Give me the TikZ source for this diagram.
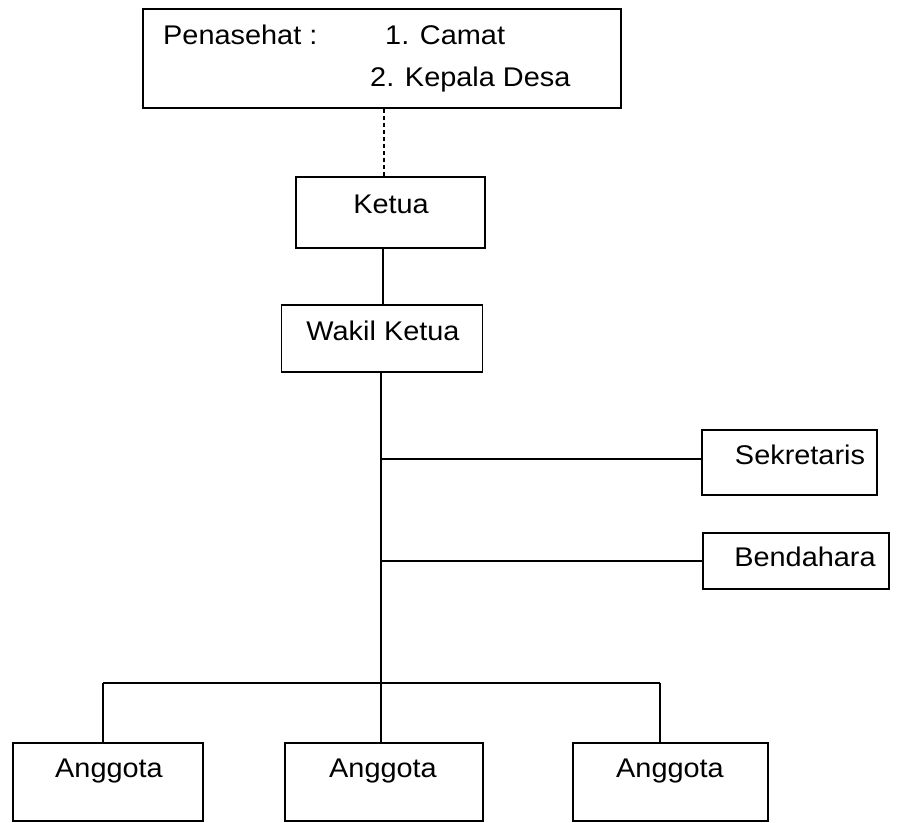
\documentclass[tikz,border=0pt]{standalone}
\usepackage{fontspec}
\setmainfont{Liberation Sans}[FakeStretch=1.07]
\begin{document}
\begin{tikzpicture}[x=1pt,y=-1pt,
  box/.style={draw,line width=1.6pt,rectangle,inner sep=0pt},
  conn/.style={line width=1.1pt},
  txt/.style={inner sep=0pt,font=\fontsize{27}{32}\selectfont}]
\useasboundingbox (0,0) rectangle (907,822);
% boxes
\node[box,minimum width=478pt,minimum height=99pt] (pen) at (382,58.5) {};
\node[box,minimum width=189pt,minimum height=71pt] (ketua) at (390.5,212.5) {};
\node[box,minimum width=201pt,minimum height=67pt] (wakil) at (382,338.5) {};
\node[box,minimum width=175pt,minimum height=65pt] (sek) at (789.5,462.5) {};
\node[box,minimum width=186pt,minimum height=56pt] (ben) at (796,561) {};
\node[box,minimum width=190pt,minimum height=78pt] (a1) at (108,782) {};
\node[box,minimum width=198pt,minimum height=78pt] (a2) at (384,782) {};
\node[box,minimum width=195pt,minimum height=78pt] (a3) at (670.5,782) {};
% texts
\node[txt,anchor=base west] (tpen) at (163,44) {Penasehat :};
\node[txt,anchor=base west] (t1) at (385,44) {1. Camat};
\node[txt,anchor=base west] (t2) at (370,86) {2. Kepala Desa};
\node[txt,anchor=base] (tketua) at (391,213) {Ketua};
\node[txt,anchor=base] (twakil) at (383,340) {Wakil Ketua};
\node[txt,anchor=base] (tsek) at (800,464) {Sekretaris};
\node[txt,anchor=base] (tben) at (805,566) {Bendahara};
\node[txt,anchor=base] (ta1) at (109,777) {Anggota};
\node[txt,anchor=base] (ta2) at (383,777) {Anggota};
\node[txt,anchor=base] (ta3) at (670,777) {Anggota};
% connectors
\coordinate (pbot) at (384,108);
\draw[conn,dash pattern=on 4pt off 3pt] (pen.south -| pbot) -- (ketua.north -| pbot);
\coordinate (kw) at (383,0);
\draw[conn] (ketua.south -| kw) -- (wakil.north -| kw);
\coordinate (vx) at (381,0);
\draw[conn] (wakil.south -| vx) -- (a2.north -| vx);
\coordinate (sy) at (0,459);
\draw[conn] (vx |- sy) -- (sek.west |- sy);
\draw[conn] (vx |- ben.west) -- (ben.west);
\coordinate (busL) at (103,683);
\coordinate (busR) at (660,683);
\draw[conn] (busL) -- (busR);
\draw[conn] (busL) -- (busL |- a1.north);
\draw[conn] (busR) -- (busR |- a3.north);
\end{tikzpicture}
\end{document}
